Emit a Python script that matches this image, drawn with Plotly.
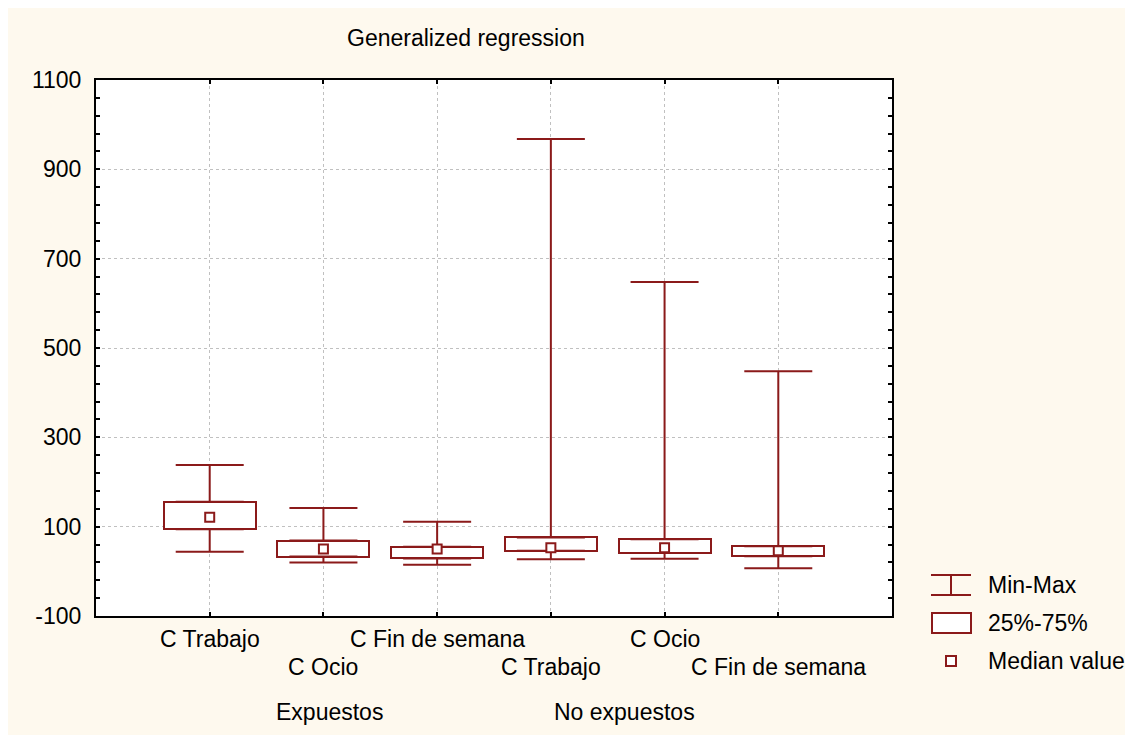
import plotly.graph_objects as go

# ---- data ----
categories = ["C Trabajo", "C Ocio", "C Fin de semana", "C Trabajo", "C Ocio", "C Fin de semana"]
groups = ["Expuestos", "No expuestos"]
minimum = [44, 20, 15, 27, 28, 7]
q1 = [94, 33, 29, 46, 41, 34]
median = [121, 50, 50, 53, 53, 46]
q3 = [156, 69, 55, 76, 72, 56]
maximum = [238, 142, 111, 968, 648, 448]
y_ticks = [-100, 100, 300, 500, 700, 900, 1100]
y_ticktext = ["-100", "100", "300", "500", "700", "900", "1100"]
legend_labels = ["Min-Max", "25%-75%", "Median value"]

RED = "#8b1a1a"
CREAM = "#fef9ee"
FONT = "Liberation Sans, Arial, sans-serif"
FS = 23

# page geometry (pixels); the page body adds an 8px offset
OFF = 8
W, H = 1133, 735
L, R, T, B = 96, 892, 80, 616  # plot area in page coordinates
pw, ph = R - L, B - T


def px(x):
    return (x - L) / pw


def py(y):
    return (B - y) / ph


xpos = list(range(1, len(categories) + 1))

fig = go.Figure()

# 25%-75% boxes
fig.add_trace(go.Bar(
    x=xpos, y=[b - a for a, b in zip(q1, q3)], base=q1, width=0.81,
    marker=dict(color="white", line=dict(color=RED, width=2)),
    showlegend=False, hoverinfo="skip"))

# upper whiskers
fig.add_trace(go.Scatter(
    x=xpos, y=q3, mode="markers", marker=dict(color="rgba(0,0,0,0)", size=1),
    error_y=dict(type="data", symmetric=False,
                 array=[m - b for m, b in zip(maximum, q3)],
                 arrayminus=[0] * len(q3), color=RED, thickness=2, width=34),
    showlegend=False, hoverinfo="skip"))
# lower whiskers
fig.add_trace(go.Scatter(
    x=xpos, y=q1, mode="markers", marker=dict(color="rgba(0,0,0,0)", size=1),
    error_y=dict(type="data", symmetric=False,
                 array=[0] * len(q1),
                 arrayminus=[a - m for a, m in zip(q1, minimum)], color=RED, thickness=2, width=34),
    showlegend=False, hoverinfo="skip"))
# medians
fig.add_trace(go.Scatter(
    x=xpos, y=median, mode="markers",
    marker=dict(symbol="square", size=9, color="white", line=dict(color=RED, width=2)),
    showlegend=False, hoverinfo="skip"))

annotations = []
# title
annotations.append(dict(text="Generalized regression", x=px(466), y=py(38), xref="paper", yref="paper",
                        showarrow=False, xanchor="center", yanchor="middle",
                        font=dict(family=FONT, size=FS, color="black")))
# category labels, staggered
for i, (xv, c) in enumerate(zip(xpos, categories)):
    yy = py(639) if i % 2 == 0 else py(667)
    annotations.append(dict(text=c, x=xv, y=yy, xref="x", yref="paper", showarrow=False,
                            xanchor="center", yanchor="middle",
                            font=dict(family=FONT, size=FS, color="black")))
# group labels
for g, gx in zip(groups, [329, 624]):
    annotations.append(dict(text=g, x=px(gx), y=py(712), xref="paper", yref="paper", showarrow=False,
                            xanchor="center", yanchor="middle",
                            font=dict(family=FONT, size=FS, color="black")))
# legend texts
for lab, ly in zip(legend_labels, [585, 623, 661]):
    annotations.append(dict(text=lab, x=px(986), y=py(ly), xref="paper", yref="paper", showarrow=False,
                            xanchor="left", yanchor="middle",
                            font=dict(family=FONT, size=FS, color="black")))

shapes = []
# legend icons
lw = 2
shapes.append(dict(type="line", xref="paper", yref="paper", x0=px(931), x1=px(971), y0=py(575), y1=py(575),
                   line=dict(color=RED, width=lw)))
shapes.append(dict(type="line", xref="paper", yref="paper", x0=px(931), x1=px(971), y0=py(595), y1=py(595),
                   line=dict(color=RED, width=lw)))
shapes.append(dict(type="line", xref="paper", yref="paper", x0=px(951), x1=px(951), y0=py(575), y1=py(595),
                   line=dict(color=RED, width=lw)))
shapes.append(dict(type="rect", xref="paper", yref="paper", x0=px(932), x1=px(971), y0=py(633), y1=py(613),
                   fillcolor="white", line=dict(color=RED, width=lw)))
shapes.append(dict(type="rect", xref="paper", yref="paper", x0=px(946), x1=px(956), y0=py(666), y1=py(656),
                   fillcolor="white", line=dict(color=RED, width=lw)))

fig.update_layout(
    width=W, height=H,
    margin=dict(l=L - OFF, r=W - (R - OFF), t=T - OFF, b=H - (B - OFF)),
    paper_bgcolor=CREAM, plot_bgcolor="white",
    font=dict(family=FONT, size=FS, color="black"),
    showlegend=False,
    bargap=0,
    annotations=annotations,
    shapes=shapes,
)
fig.update_xaxes(
    range=[0, 7], tickvals=xpos, ticktext=[""] * len(xpos),
    showgrid=True, gridcolor="#c0c0c0", griddash="dot", gridwidth=1,
    ticks="inside", ticklen=4, tickcolor="black", tickwidth=2,
    showline=True, linecolor="black", linewidth=2, mirror="ticks",
    zeroline=False, fixedrange=True,
)
fig.update_yaxes(
    range=[-100, 1100], tickvals=y_ticks, ticktext=y_ticktext,
    showgrid=True, gridcolor="#c0c0c0", griddash="dot", gridwidth=1,
    ticks="inside", ticklen=4, tickcolor="black", tickwidth=2,
    minor=dict(dtick=40, tick0=-100, ticks="inside", ticklen=4, tickcolor="black", tickwidth=2, showgrid=False),
    showline=True, linecolor="black", linewidth=2, mirror="ticks",
    zeroline=False, ticklabelstandoff=8, tickfont=dict(family=FONT, size=FS),
    fixedrange=True,
)

fig.write_html("out.html")
